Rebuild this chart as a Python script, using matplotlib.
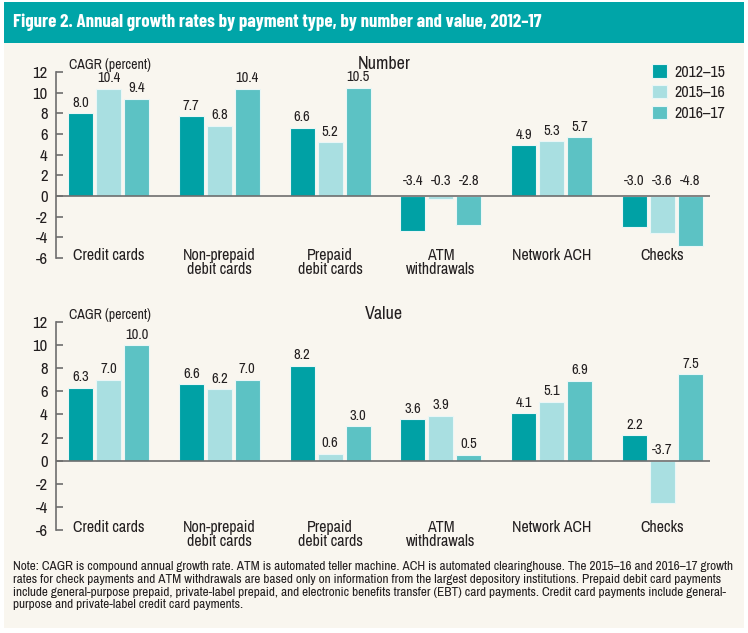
import matplotlib
matplotlib.use("Agg")
import matplotlib.pyplot as plt
from matplotlib.patches import Rectangle, Patch
import numpy as np

plt.rcParams['font.family'] = ['Archivo Narrow', 'DejaVu Sans']

categories = ["Credit cards", "Non-prepaid\ndebit cards", "Prepaid\ndebit cards",
              "ATM\nwithdrawals", "Network ACH", "Checks"]
series = ["2012\u201315", "2015\u201316", "2016\u201317"]
number_vals = [
    [8.0, 7.7, 6.6, -3.4, 4.9, -3.0],
    [10.4, 6.8, 5.2, -0.3, 5.3, -3.6],
    [9.4, 10.4, 10.5, -2.8, 5.7, -4.8],
]
value_vals = [
    [6.3, 6.6, 8.2, 3.6, 4.1, 2.2],
    [7.0, 6.2, 0.6, 3.9, 5.1, -3.7],
    [10.0, 7.0, 3.0, 0.5, 6.9, 7.5],
]
yticks = [-6, -4, -2, 0, 2, 4, 6, 8, 10, 12]
panel_titles = ["Number", "Value"]
ylabel = "CAGR (percent)"
title = "Figure 2. Annual growth rates by payment type, by number and value, 2012\u201317"
note = ("Note: CAGR is compound annual growth rate. ATM is automated teller machine. ACH is automated clearinghouse. The 2015\u201316 and 2016\u201317 growth\n"
        "rates for check payments and ATM withdrawals are based only on information from the largest depository institutions. Prepaid debit card payments\n"
        "include general-purpose prepaid, private-label prepaid, and electronic benefits transfer (EBT) card payments. Credit card payments include general-\n"
        "purpose and private-label credit card payments.")

colors = ["#00A1A5", "#A9DFE1", "#5CC2C4"]
cream = "#F9F6EF"
teal = "#00A5A8"
txt = "#231F20"
axis_gray = "#6E6E6E"

W, H = 748, 633
fig = plt.figure(figsize=(W / 100, H / 100), dpi=100)
fig.patch.set_facecolor("white")

def fx(px):
    return px / W

def fy(py):
    return 1 - py / H

# backgrounds
fig.patches.append(Rectangle((fx(4), fy(628)), fx(740), (628 - 43) / H,
                             transform=fig.transFigure, facecolor=cream, edgecolor="none", zorder=-10))
fig.patches.append(Rectangle((fx(4), fy(43)), fx(740), (43 - 2) / H,
                             transform=fig.transFigure, facecolor=teal, edgecolor="none", zorder=-9))
fig.text(fx(13), fy(22), title, color="white", fontsize=13.6, fontweight="bold",
         family=["Barlow Condensed", "DejaVu Sans"], ha="left", va="center")

axes_px = [(72, 258), (322, 530)]
x = np.arange(len(categories))
offsets = [-0.253, 0.0, 0.253]
width = 0.226

for p, (data, (ytop, ybot)) in enumerate(zip([number_vals, value_vals], axes_px)):
    ax = fig.add_axes([fx(56), fy(ybot), fx(710) - fx(56), (ybot - ytop) / H])
    ax.set_facecolor("none")
    ax.set_xlim(-0.474, 5.43)
    ax.set_ylim(-6, 12)
    for s in range(3):
        ax.bar(x + offsets[s], data[s], width, color=colors[s],
               edgecolor="#EAF6F6", linewidth=0.8, zorder=2)
        for xi, v in zip(x + offsets[s], data[s]):
            if v >= 0:
                ax.annotate(f"{v:.1f}", (xi, v), xytext=(0, 2.5), textcoords="offset points",
                            ha="center", va="bottom", fontsize=10.5, color=txt)
            else:
                off = 6 if p == 0 else 2.5
                ax.annotate(f"{v:.1f}", (xi, 0), xytext=(0, off), textcoords="offset points",
                            ha="center", va="bottom", fontsize=10.5, color=txt)
    ax.axhline(0, color=axis_gray, lw=1.2, zorder=3)
    ax.plot([1, 1], [0, 0.035], transform=ax.get_xaxis_transform(), color=axis_gray,
            lw=1.2, clip_on=False, zorder=3)
    for sp in ["top", "right", "bottom"]:
        ax.spines[sp].set_visible(False)
    ax.spines["left"].set_color(axis_gray)
    ax.spines["left"].set_linewidth(1.2)
    ax.set_yticks(yticks)
    ax.set_yticklabels([str(t) for t in yticks])
    ax.tick_params(axis="y", direction="in", length=5, width=1.2, color=axis_gray,
                   labelsize=12, labelcolor=txt, pad=6)
    ax.set_xticks([])
    for xi, lab in zip(x, categories):
        ax.annotate(lab, (xi, -6), xytext=(0, 7.5), textcoords="offset points",
                    ha="center", va="top", fontsize=11.5, color=txt, linespacing=0.95,
                    annotation_clip=False)
    ax.text(fx(69), fy(ytop - 7), ylabel, transform=fig.transFigure, fontsize=10,
            color=txt, ha="left", va="center")
    fig.text(fx(384), fy(ytop - 8), panel_titles[p], fontsize=13, color=txt,
             ha="center", va="center")

handles = [Patch(facecolor=c, edgecolor="#EAF6F6", linewidth=0.8) for c in colors]
fig.legend(handles, series, loc="upper left", bbox_to_anchor=(fx(638), fy(50)),
           frameon=False, fontsize=11.5, handlelength=0.9, handleheight=0.9,
           labelspacing=0.35, handletextpad=0.45, labelcolor=txt)

fig.text(fx(13), fy(561), note, fontsize=9.5, color=txt, ha="left", va="top", linespacing=1.2)

fig.savefig("out.png", dpi=100, facecolor=fig.get_facecolor())
